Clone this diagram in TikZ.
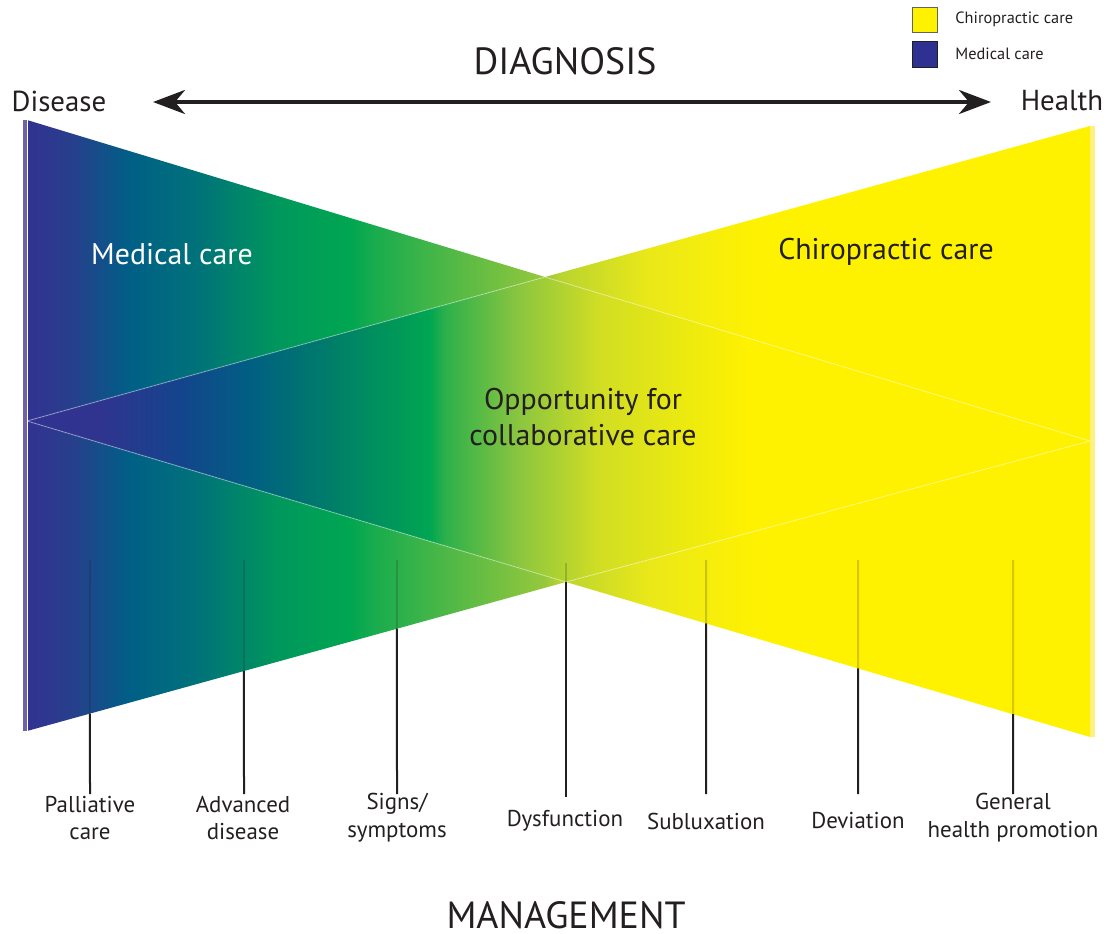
\documentclass[tikz,border=0pt]{standalone}
\usepackage{fontspec}
\setmainfont{PT Sans}
\usetikzlibrary{arrows.meta}
\definecolor{ink}{RGB}{35,31,32}
\definecolor{legyellow}{RGB}{255,242,0}
\definecolor{legblue}{RGB}{46,49,146}
\definecolor{leftstrip}{RGB}{110,98,168}
\definecolor{rightstrip}{RGB}{255,240,130}
\pgfdeclarehorizontalshading{outershade}{310bp}{rgb(0bp)=(0.196,0.196,0.569); rgb(21.5bp)=(0.157,0.243,0.549); rgb(51.5bp)=(0,0.373,0.529); rgb(86.5bp)=(0,0.451,0.471); rgb(126.5bp)=(0,0.596,0.361); rgb(161.5bp)=(0,0.651,0.318); rgb(174bp)=(0.098,0.675,0.306); rgb(259bp)=(0.588,0.784,0.235); rgb(266.5bp)=(0.725,0.831,0.188); rgb(311.5bp)=(0.922,0.91,0.098); rgb(366.5bp)=(1,0.949,0); rgb(531.5bp)=(1,0.949,0)}
\pgfdeclarehorizontalshading{midshade}{310bp}{rgb(0bp)=(0.196,0.196,0.569); rgb(36.5bp)=(0.188,0.204,0.561); rgb(76.5bp)=(0.078,0.267,0.549); rgb(111.5bp)=(0,0.373,0.51); rgb(151.5bp)=(0,0.49,0.412); rgb(201.5bp)=(0,0.651,0.318); rgb(209bp)=(0.176,0.69,0.294); rgb(246.5bp)=(0.549,0.776,0.247); rgb(286.5bp)=(0.824,0.871,0.137); rgb(361.5bp)=(1,0.949,0); rgb(531.5bp)=(1,0.949,0)}
\tikzset{
  shadebox/.style={inner sep=0pt, outer sep=0pt, anchor=south west},
  seam/.style={draw=white, line width=0.5bp, opacity=0.35},
  tick/.style={draw=ink, line width=1bp},
  faint/.style={draw=ink, line width=1bp, opacity=0.2},
  lbl/.style={font=\fontsize{11.5}{14}\selectfont, text=ink, align=center, inner sep=0pt},
  big/.style={font=\fontsize{19}{22}\selectfont, text=ink, inner sep=0pt},
  end/.style={font=\fontsize{14.5}{17}\selectfont, text=ink, inner sep=0pt},
  region/.style={font=\fontsize{15}{18}\selectfont, align=center, inner sep=0pt},
  legtext/.style={font=\fontsize{8.2}{10}\selectfont, text=ink, anchor=west, inner sep=0pt},
  legbox/.style={line width=0.5bp}
}
\begin{document}
\begin{tikzpicture}[x=0.5bp, y=-0.5bp]
\useasboundingbox (0,0) rectangle (1107,934);
% vertices
\coordinate (TL) at (27,120);
\coordinate (ML) at (27,421);
\coordinate (BL) at (27,731);
\coordinate (TR) at (1090,126);
\coordinate (MR) at (1090,441);
\coordinate (BR) at (1090,737);
\coordinate (X1) at (545,277);
\coordinate (X2) at (566,582);
% regions
\begin{scope}
  \clip (TL) -- (X1) -- (ML) -- cycle;
  \node[shadebox] (sh1) at (27,740) {\pgfuseshading{outershade}};
\end{scope}
\begin{scope}
  \clip (TR) -- (X1) -- (MR) -- cycle;
  \node[shadebox] (sh2) at (27,740) {\pgfuseshading{outershade}};
\end{scope}
\begin{scope}
  \clip (ML) -- (X1) -- (MR) -- (X2) -- cycle;
  \node[shadebox] (sh3) at (27,740) {\pgfuseshading{midshade}};
\end{scope}
\begin{scope}
  \clip (ML) -- (X2) -- (BL) -- cycle;
  \node[shadebox] (sh4) at (27,740) {\pgfuseshading{outershade}};
\end{scope}
\begin{scope}
  \clip (MR) -- (X2) -- (BR) -- cycle;
  \node[shadebox] (sh5) at (27,740) {\pgfuseshading{outershade}};
\end{scope}
\draw[seam] (ML) -- (X1) -- (MR) -- (X2) -- cycle;
% edge strips
\fill[leftstrip] (23,120) rectangle (27,731);
\fill[rightstrip] (1090,126) rectangle (1095,737);
% ticks
\foreach \i/\x in {1/90,2/244,3/397}{
  \coordinate (t\i) at (\x,560);
  \coordinate (b\i) at (\x,794);
  \coordinate (k\i) at (intersection cs: first line={(t\i)--(b\i)}, second line={(BL)--(X2)});
  \draw[faint] (t\i) -- (k\i);
  \draw[tick] (k\i) -- (b\i);
}
\foreach \i/\x in {5/706,6/858,7/1013}{
  \coordinate (t\i) at (\x,560);
  \coordinate (b\i) at (\x,794);
  \coordinate (k\i) at (intersection cs: first line={(t\i)--(b\i)}, second line={(X2)--(BR)});
  \draw[faint] (t\i) -- (k\i);
  \draw[tick] (k\i) -- (b\i);
}
\coordinate (t4) at (566,563);
\coordinate (b4) at (566,797);
\draw[faint] (t4) -- (X2);
\draw[tick] (X2) -- (b4);
% labels
\node[lbl] (l1) at (90,818) {Palliative\\care};
\node[lbl] (l2) at (243,818) {Advanced\\disease};
\node[lbl] (l3) at (397,818) {Signs/\\symptoms};
\node[lbl] (l4) at (565,821) {Dysfunction};
\node[lbl] (l5) at (706,821) {Subluxation};
\node[lbl] (l6) at (858,821) {Deviation};
\node[lbl] (l7) at (1013,818) {General\\health promotion};
% texts
\node[big] (diag) at (565,61) {DIAGNOSIS};
\node[big] (mgmt) at (566,915) {MANAGEMENT};
\node[end] (dis) at (59,101) {Disease};
\node[end] (hea) at (1062,101) {Health};
\coordinate (arrL) at (153,102);
\coordinate (arrR) at (991,102);
\draw[ink, line width=2bp, {Stealth[length=16bp, width=12bp, inset=5bp]}-{Stealth[length=16bp, width=12bp, inset=5bp]}] (arrL) -- (arrR);
\node[region, text=white] (med) at (172,254) {Medical care};
\node[region, text=ink] (chi) at (886,252) {Chiropractic care};
\node[region, text=ink] (opp) at (583,417) {Opportunity for\\collaborative care};
% legend
\draw[legbox, draw=ink!70, fill=legyellow] (912,7) rectangle (937,32);
\draw[legbox, draw=ink, fill=legblue] (912,41) rectangle (937,67);
\node[legtext] (lg1) at (955,19) {Chiropractic care};
\node[legtext] (lg2) at (955,54) {Medical care};
\end{tikzpicture}
\end{document}
